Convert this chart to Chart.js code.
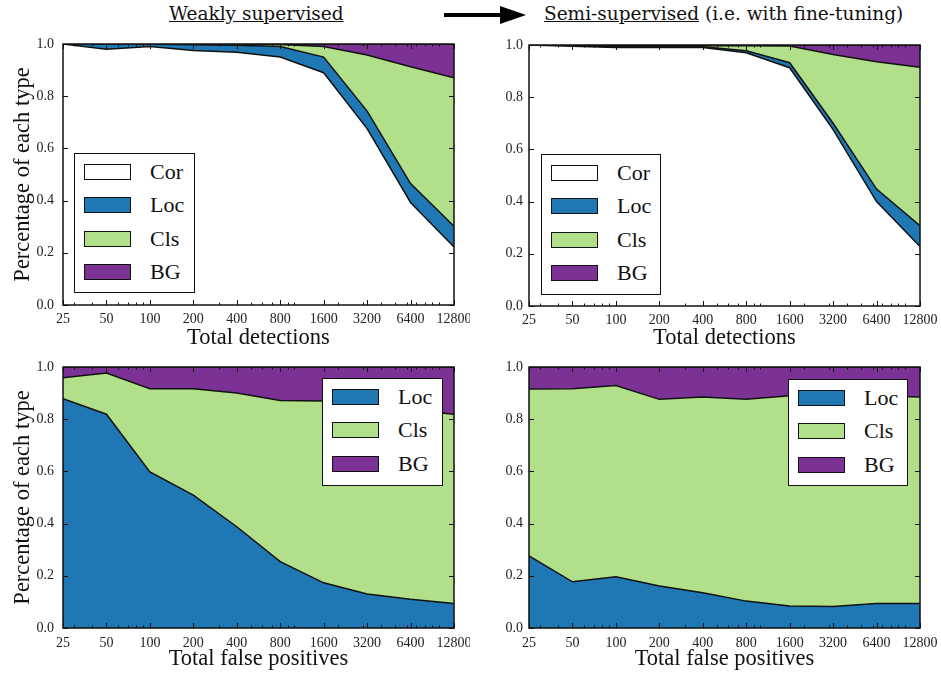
<!DOCTYPE html>
<html>
<head>
<meta charset="utf-8">
<script src="https://cdn.jsdelivr.net/npm/chart.js@4.4.1/dist/chart.umd.min.js"></script>
<style>
  body { margin: 0; width: 941px; height: 673px; background: #fff; position: relative; overflow: hidden; font-family: 'Liberation Serif', serif; }
  canvas { position: absolute; }
  .hdr { position: absolute; top: 3px; font-family: 'DejaVu Serif', serif; font-size: 18.5px; color: #111; white-space: nowrap; }
  .arrow-line { position: absolute; left: 444px; top: 13px; width: 60px; height: 4px; background: #000; }
  .arrow-head { position: absolute; left: 500px; top: 6px; width: 0; height: 0; border-top: 9px solid transparent; border-bottom: 9px solid transparent; border-left: 26px solid #000; }
  .legend { position: absolute; background: #fff; border: 1.5px solid #111; box-sizing: border-box; }
  .legend .row { position: absolute; left: 0; height: 20px; display: flex; align-items: center; }
  .legend .patch { width: 47px; height: 16px; border: 1.5px solid #111; box-sizing: border-box; margin-left: 9px; }
  .legend .lbl { margin-left: 19px; font-size: 22px; color: #111; line-height: 20px; }
</style>
</head>
<body>

<div class="hdr" style="left:169px;"><u>Weakly supervised</u></div>
<div class="arrow-line"></div>
<div class="arrow-head"></div>
<div class="hdr" style="left:544px;"><u>Semi-supervised</u> (i.e. with fine-tuning)</div>

<canvas id="weakDet" width="470" height="325" style="left:0;top:30px"></canvas>
<canvas id="semiDet" width="471" height="325" style="left:470px;top:30px"></canvas>
<canvas id="weakFp" width="470" height="328" style="left:0;top:345px"></canvas>
<canvas id="semiFp" width="471" height="328" style="left:470px;top:345px"></canvas>

<script>
'use strict';

// ─── DATA ────────────────────────────────────────────────────

const X_VALUES = [25, 50, 100, 200, 400, 800, 1600, 3200, 6400, 12800];
const Y_TICKS  = [0, 0.2, 0.4, 0.6, 0.8, 1.0];

// top left: weakly supervised, total detections
const WEAK_DET_COR = [1.00, 0.98, 0.99, 0.975, 0.968, 0.95, 0.89, 0.676, 0.393, 0.222];
const WEAK_DET_LOC = [0.00, 0.02, 0.01, 0.022, 0.027, 0.04, 0.06, 0.067, 0.072, 0.080];
const WEAK_DET_CLS = [0.00, 0.00, 0.00, 0.003, 0.005, 0.008, 0.04, 0.215, 0.448, 0.569];
const WEAK_DET_BG  = [0.00, 0.00, 0.00, 0.000, 0.000, 0.002, 0.01, 0.042, 0.087, 0.129];

// top right: semi-supervised, total detections
const SEMI_DET_COR = [1.00, 0.995, 0.990, 0.990, 0.990, 0.970, 0.913, 0.676, 0.400, 0.228];
const SEMI_DET_LOC = [0.00, 0.002, 0.003, 0.003, 0.003, 0.008, 0.019, 0.024, 0.048, 0.080];
const SEMI_DET_CLS = [0.00, 0.003, 0.004, 0.004, 0.004, 0.019, 0.064, 0.264, 0.488, 0.607];
const SEMI_DET_BG  = [0.00, 0.000, 0.003, 0.003, 0.003, 0.003, 0.004, 0.036, 0.064, 0.085];

// bottom left: weakly supervised, total false positives
const WEAK_FP_LOC = [0.879, 0.819, 0.598, 0.509, 0.388, 0.254, 0.173, 0.130, 0.110, 0.094];
const WEAK_FP_CLS = [0.080, 0.158, 0.319, 0.408, 0.512, 0.618, 0.697, 0.725, 0.725, 0.725];
const WEAK_FP_BG  = [0.041, 0.023, 0.083, 0.083, 0.100, 0.128, 0.130, 0.145, 0.165, 0.181];

// bottom right: semi-supervised, total false positives
const SEMI_FP_LOC = [0.276, 0.177, 0.196, 0.161, 0.135, 0.103, 0.084, 0.082, 0.094, 0.094];
const SEMI_FP_CLS = [0.640, 0.740, 0.733, 0.715, 0.750, 0.773, 0.806, 0.808, 0.796, 0.791];
const SEMI_FP_BG  = [0.084, 0.083, 0.071, 0.124, 0.115, 0.124, 0.110, 0.110, 0.110, 0.115];

// ─── STYLE ───────────────────────────────────────────────────

const COLORS = {
  Cor: '#ffffff',
  Loc: '#1f78b4',
  Cls: '#b2df8a',
  BG:  '#7b3294',
};

Chart.defaults.font.family = "'Liberation Serif', serif";
Chart.defaults.color = '#222';

// inward ticks on all four sides + black frame, matplotlib style
const frameTicks = {
  id: 'frameTicks',
  afterDraw(chart) {
    const { ctx, chartArea: a, scales: { x, y } } = chart;
    ctx.save();
    ctx.strokeStyle = '#111';
    ctx.lineWidth = 1;
    ctx.beginPath();
    const vtick = (v, len) => {
      const px = Math.round(x.getPixelForValue(v)) + 0.5;
      ctx.moveTo(px, a.bottom); ctx.lineTo(px, a.bottom - len);
      ctx.moveTo(px, a.top);    ctx.lineTo(px, a.top + len);
    };
    X_VALUES.forEach(v => vtick(v, 5));
    for (const base of [10, 100, 1000, 10000]) {
      for (let k = 1; k <= 9; k++) {
        const v = k * base;
        if (v > 25 && v < 12800 && !X_VALUES.includes(v)) vtick(v, 2.5);
      }
    }
    Y_TICKS.forEach(v => {
      const py = Math.round(y.getPixelForValue(v)) + 0.5;
      ctx.moveTo(a.left, py);  ctx.lineTo(a.left + 5, py);
      ctx.moveTo(a.right, py); ctx.lineTo(a.right - 5, py);
    });
    ctx.stroke();
    ctx.lineWidth = 1.5;
    ctx.strokeRect(a.left, a.top, a.right - a.left, a.bottom - a.top);
    ctx.restore();
  }
};

function areaSet(label, values, first) {
  return {
    label,
    data: X_VALUES.map((x, i) => ({ x, y: values[i] })),
    backgroundColor: COLORS[label],
    borderColor: '#111',
    borderWidth: 1.5,
    pointRadius: 0,
    tension: 0,
    fill: first ? 'origin' : '-1',
  };
}

function renderPanel(id, series, o) {
  const ctx = document.getElementById(id);
  const names = Object.keys(series);
  return new Chart(ctx, {
    type: 'line',
    data: { datasets: names.map((n, i) => areaSet(n, series[n], i === 0)) },
    options: {
      responsive: false,
      animation: false,
      layout: { padding: { top: o.top, right: o.right, left: 0, bottom: 0 } },
      plugins: { legend: { display: false }, tooltip: { enabled: false } },
      scales: {
        x: {
          type: 'logarithmic',
          min: 25,
          max: 12800,
          grid: { display: false, drawTicks: false },
          border: { display: false },
          afterBuildTicks: s => { s.ticks = X_VALUES.map(v => ({ value: v })); },
          afterFit: s => { s.height = o.xh; s.paddingLeft = 0; s.paddingRight = 0; },
          ticks: { autoSkip: false, maxRotation: 0, padding: o.xpad, font: { size: 14 }, callback: v => String(v) },
          title: { display: true, text: o.xtitle, font: { size: 22.5, lineHeight: 1.2 }, color: '#111', padding: { top: 0, bottom: o.xtpad } },
        },
        y: {
          stacked: true,
          min: 0,
          max: 1,
          grid: { display: false, drawTicks: false },
          border: { display: false },
          afterBuildTicks: s => { s.ticks = Y_TICKS.map(v => ({ value: v })); },
          afterFit: s => { s.width = o.yw; s.paddingTop = 0; s.paddingBottom = 0; },
          ticks: { padding: o.ypad, font: { size: 14 }, callback: v => v.toFixed(1) },
          title: { display: !!o.ytitle, text: o.ytitle || '', font: { size: 22.5, lineHeight: 1.2 }, color: '#111', padding: { top: 9.5, bottom: 0 } },
        }
      }
    },
    plugins: [frameTicks]
  });
}

// ─── LEGENDS (html) ──────────────────────────────────────────

function renderLegend(left, top, width, height, names) {
  const box = document.createElement('div');
  box.className = 'legend';
  Object.assign(box.style, { left: left + 'px', top: top + 'px', width: width + 'px', height: height + 'px' });
  names.forEach((n, i) => {
    const row = document.createElement('div');
    row.className = 'row';
    row.style.top = (8 + i * 33.3) + 'px';
    const patch = document.createElement('div');
    patch.className = 'patch';
    patch.style.background = COLORS[n];
    const lbl = document.createElement('span');
    lbl.className = 'lbl';
    lbl.textContent = n;
    row.appendChild(patch);
    row.appendChild(lbl);
    box.appendChild(row);
  });
  document.body.appendChild(box);
}

// ─── RENDER ──────────────────────────────────────────────────

renderPanel('weakDet',
  { Cor: WEAK_DET_COR, Loc: WEAK_DET_LOC, Cls: WEAK_DET_CLS, BG: WEAK_DET_BG },
  { top: 14, right: 16, yw: 63, xh: 50, xpad: 6, ypad: 9, xtpad: 3.5, xtitle: 'Total detections', ytitle: 'Percentage of each type' });

renderPanel('semiDet',
  { Cor: SEMI_DET_COR, Loc: SEMI_DET_LOC, Cls: SEMI_DET_CLS, BG: SEMI_DET_BG },
  { top: 15, right: 21, yw: 59, xh: 49, xpad: 6, ypad: 6, xtpad: 3.5, xtitle: 'Total detections' });

renderPanel('weakFp',
  { Loc: WEAK_FP_LOC, Cls: WEAK_FP_CLS, BG: WEAK_FP_BG },
  { top: 22, right: 16, yw: 63, xh: 45, xpad: 7, ypad: 9, xtpad: 0, xtitle: 'Total false positives', ytitle: 'Percentage of each type' });

renderPanel('semiFp',
  { Loc: SEMI_FP_LOC, Cls: SEMI_FP_CLS, BG: SEMI_FP_BG },
  { top: 22, right: 21, yw: 59, xh: 45, xpad: 7, ypad: 6, xtpad: 0, xtitle: 'Total false positives' });

renderLegend(74, 153, 121, 140, ['Cor', 'Loc', 'Cls', 'BG']);
renderLegend(541, 154, 120, 141, ['Cor', 'Loc', 'Cls', 'BG']);
renderLegend(322, 378, 121, 108, ['Loc', 'Cls', 'BG']);
renderLegend(788, 379, 120, 107, ['Loc', 'Cls', 'BG']);
</script>
</body>
</html>
